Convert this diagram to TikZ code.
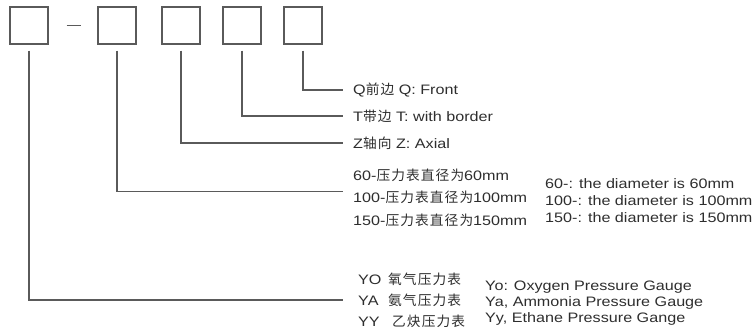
\documentclass[tikz,border=0pt]{standalone}
\usepackage{fontspec}
\setmainfont{Liberation Sans}[FakeStretch=1.18]
\newfontfamily\cjk{Noto Sans CJK SC}[LetterSpace=8]
\usepackage{xcolor}
\usetikzlibrary{positioning}

\definecolor{linegray}{HTML}{5A5A5A}
\definecolor{textgray}{HTML}{2E2E2E}

\tikzset{
  codebox/.style={draw=linegray,line width=1.2pt,minimum width=38pt,minimum height=37pt,inner sep=0pt},
  lead/.style={draw=linegray,line width=1.2pt},
  desc/.style={anchor=west,inner xsep=10pt,inner ysep=0pt,text=textgray,align=left,font=\fontsize{13.7}{17}\selectfont},
}

\begin{document}
\begin{tikzpicture}[x=1pt,y=-1pt]
  \useasboundingbox (0,0) rectangle (753,334);
  % Kennzeichenfelder
  \node[codebox] (b1) at (29,25.5) {};
  \node[codebox] (b2) at (117,25.5) {};
  \node[codebox] (b3) at (181,25.5) {};
  \node[codebox] (b4) at (242,25.5) {};
  \node[codebox] (b5) at (303,25.5) {};
  \draw[lead] ([xshift=18pt]b1.east) -- ([xshift=-16pt]b2.west);
  % Bedeutung der Felder
  \node[desc] (lq) at (343,90) {Q{\cjk 前边} Q: Front};
  \node[desc] (lt) at (343,116) {T{\cjk 带边} T: with border};
  \node[desc] (lz) at (343,143) {Z{\cjk 轴向} Z: Axial};
  \node[desc,font=\fontsize{13.7}{22.5}\selectfont] (ld) at (343,197.5)
    {60-{\cjk 压力表直径为}60mm\\100-{\cjk 压力表直径为}100mm\\150-{\cjk 压力表直径为}150mm};
  \node[desc,inner xsep=0pt] (le) at (545,201)
    {60-: the diameter is 60mm\\100-: the diameter is 100mm\\150-: the diameter is 150mm};
  \node[desc,inner xsep=15pt,font=\fontsize{13.7}{21}\selectfont] (lg) at (343,300)
    {\makebox[30pt][l]{YO}{\cjk 氧气压力表}\\\makebox[30pt][l]{YA}{\cjk 氨气压力表}\\\makebox[34pt][l]{YY}{\cjk 乙炔压力表}};
  \node[desc,inner xsep=0pt,font=\fontsize{13.7}{16}\selectfont] (lh) at (485,303)
    {Yo: Oxygen Pressure Gauge\\Ya, Ammonia Pressure Gauge\\Yy, Ethane Pressure Gange};
  % Fuehrungslinien
  \draw[lead] ([yshift=-6pt]b5.south) |- (lq.west);
  \draw[lead] ([yshift=-6pt]b4.south) |- (lt.west);
  \draw[lead] ([yshift=-6pt]b3.south) |- (lz.west);
  \draw[lead] ([yshift=-6pt]b2.south) |- ([yshift=6pt]ld.west);
  \draw[lead] ([yshift=-6pt]b1.south) |- (lg.west);
\end{tikzpicture}
\end{document}
